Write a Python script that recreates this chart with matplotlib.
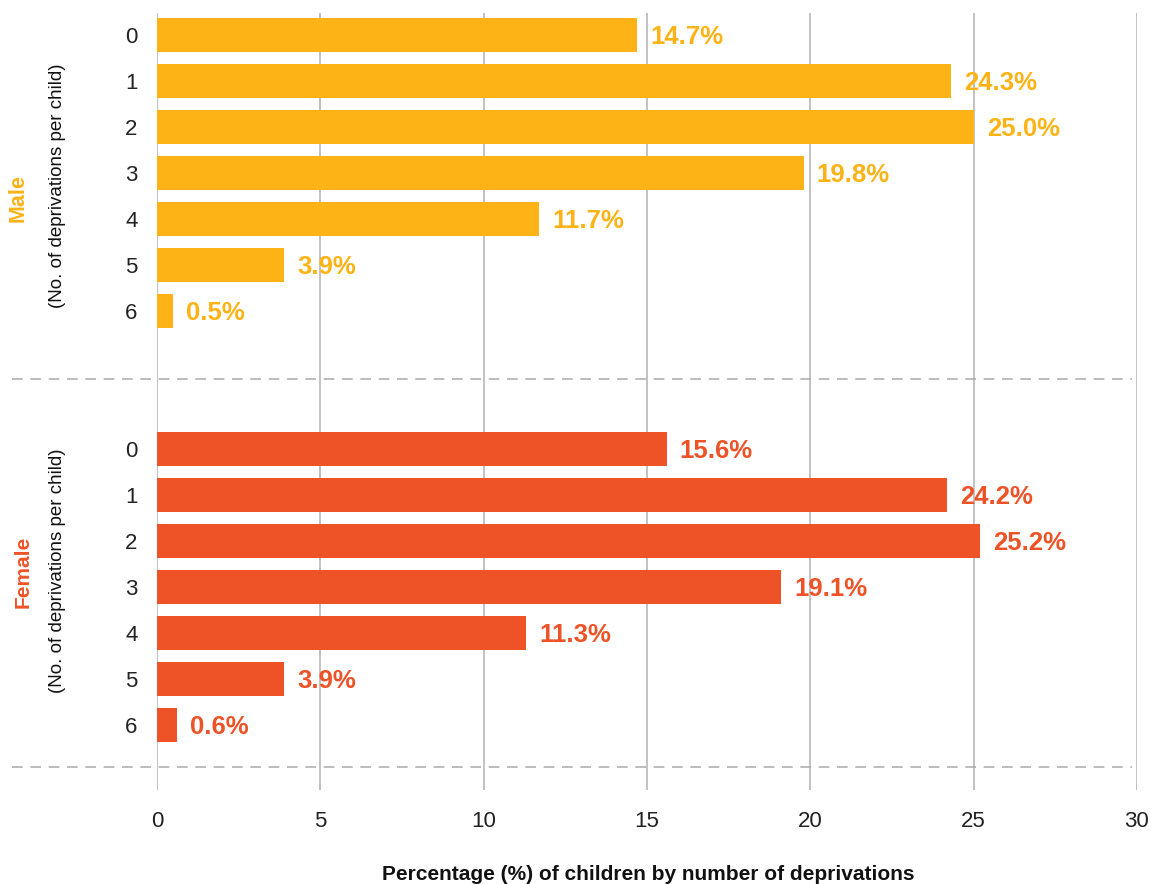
import matplotlib
matplotlib.use('Agg')
import matplotlib.pyplot as plt
import numpy as np

plt.rcParams['font.family'] = ['Liberation Sans', 'DejaVu Sans']

deprivations = ['0', '1', '2', '3', '4', '5', '6']
male = [14.7, 24.3, 25.0, 19.8, 11.7, 3.9, 0.5]
female = [15.6, 24.2, 25.2, 19.1, 11.3, 3.9, 0.6]
x_ticks = [0, 5, 10, 15, 20, 25, 30]

male_color = '#FDB316'
female_color = '#EE5327'

fig = plt.figure(figsize=(11.51, 8.84), dpi=100)
ax = fig.add_axes([0.1364, 0.1063, 0.8514, 0.879])

# male rows on top, female rows after a gap of 3 rows
y_male = np.arange(len(male))
y_female = np.arange(len(female)) + 9

ax.barh(y_male, male, height=0.74, color=male_color, zorder=3)
ax.barh(y_female, female, height=0.74, color=female_color, zorder=3)

for y, v in zip(y_male, male):
    ax.text(v + 0.4, y + 0.04, f'{v:.1f}%', va='center', ha='left', fontsize=18.5,
            fontweight='bold', color=male_color, zorder=4)
for y, v in zip(y_female, female):
    ax.text(v + 0.4, y + 0.04, f'{v:.1f}%', va='center', ha='left', fontsize=18.5,
            fontweight='bold', color=female_color, zorder=4)

ax.set_xlim(0, 30)
ax.set_ylim(16.41, -0.48)
ax.set_xticks(x_ticks)
ax.set_xticklabels([str(t) for t in x_ticks], fontsize=16, color='#222222')
ax.set_yticks(list(y_male) + list(y_female))
ax.set_yticklabels(deprivations + deprivations, fontsize=16, color='#222222')
ax.tick_params(length=0)
ax.tick_params(axis='y', pad=14)
ax.tick_params(axis='x', pad=15)

for s in ax.spines.values():
    s.set_visible(False)
ax.xaxis.grid(True, color='#BDBDBD', linewidth=1.3, zorder=0)
ax.set_axisbelow(True)

# dashed separators extending to the left edge
for yy in (7.48, 15.91):
    ax.plot([-4.45, 29.85], [yy, yy], color='#AAAAAA', linewidth=1.1,
            linestyle=(0, (7, 5)), clip_on=False, zorder=1)


def ypix_to_fig(py):
    return 1 - py / 884


fig.text(648 / 1151, ypix_to_fig(875), 'Percentage (%) of children by number of deprivations',
         ha='center', va='center', fontsize=15, fontweight='bold', color='#111111')

# group labels on the left
fig.text(18 / 1151, ypix_to_fig(198), 'Male', rotation=90, ha='center',
         va='center', fontsize=15.5, fontweight='bold', color=male_color)
fig.text(57 / 1151, ypix_to_fig(186), '(No. of deprivations per child)',
         rotation=90, ha='center', va='center', fontsize=13.5, color='#111111')
fig.text(23 / 1151, ypix_to_fig(572), 'Female', rotation=90, ha='center',
         va='center', fontsize=15, fontweight='bold', color=female_color)
fig.text(57 / 1151, ypix_to_fig(571), '(No. of deprivations per child)',
         rotation=90, ha='center', va='center', fontsize=13.5, color='#111111')

fig.savefig('out.png', dpi=100)
